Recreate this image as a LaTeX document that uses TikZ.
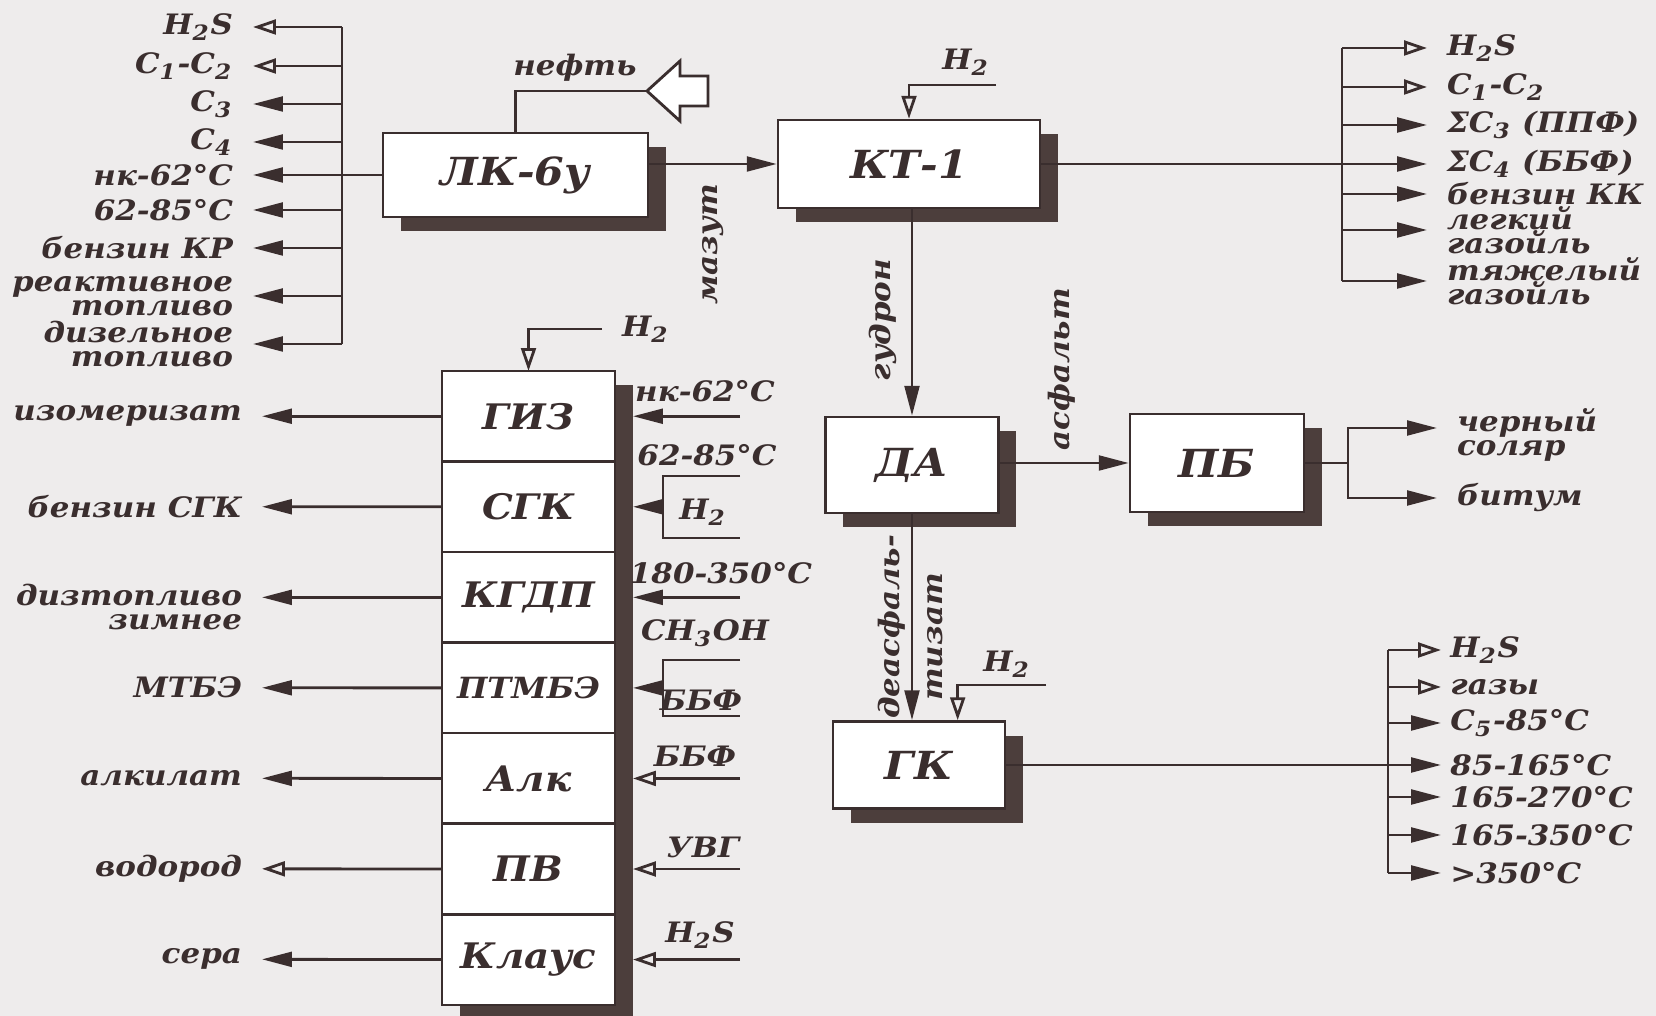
\documentclass[tikz,border=0pt]{standalone}
\usepackage{fontspec}
\newfontfamily\lblfont{DejaVu Serif}[FakeStretch=1.1]
\newcommand{\diagfont}{\lblfont\bfseries\itshape}
\usetikzlibrary{arrows.meta,positioning,shadows}
\definecolor{ink}{RGB}{58,46,46}
\definecolor{shade}{RGB}{76,62,60}
\definecolor{paper}{RGB}{238,236,236}

\begin{document}
\begin{tikzpicture}[x=0.01cm, y=-0.01cm,
    line/.style={draw=ink, line width=0.8pt},
    flow/.style={line, -{Triangle[length=8.5pt,width=4.2pt]}},
    gas/.style={line, -{Triangle[open,length=6.5pt,width=4.2pt,fill=paper]}},
    unit/.style={rectangle, draw=ink, line width=0.7pt, fill=white, text=ink,
        font=\diagfont\fontsize{11}{11}\selectfont,
        drop shadow={shadow xshift=5.1pt, shadow yshift=-4pt, opacity=1, fill=shade}},
    cell/.style={unit, minimum width=1.73cm, minimum height=0.905cm, inner sep=0pt, outer sep=0pt,
        font=\diagfont\fontsize{10}{10}\selectfont},
    lbl/.style={text=ink, inner xsep=5.5pt, inner ysep=1pt, font=\diagfont\fontsize{8}{6.8}\selectfont},
    near/.style={inner xsep=2.5pt},
    vlbl/.style={lbl, rotate=90, inner sep=1pt}]
    \useasboundingbox (0,0) rectangle (1656,1016);
    \fill[paper] (0,0) rectangle (1656,1016);

    % units
    \node[unit, minimum width=2.65cm, minimum height=0.84cm] (lk) at (515.5,175) {ЛК-6у};
    \node[unit, minimum width=2.62cm, minimum height=0.88cm] (kt) at (909,164) {КТ-1};
    \node[unit, minimum width=1.73cm, minimum height=0.96cm] (da) at (912,465) {ДА};
    \node[unit, minimum width=1.74cm, minimum height=0.98cm] (pb) at (1217,463) {ПБ};
    \node[unit, minimum width=1.72cm, minimum height=0.87cm] (gk) at (919,765) {ГК};

    % combined block
    \node[cell] (giz) at (528.5,416.25) {ГИЗ};
    \node[cell, below=0pt of giz] (sgk) {СГК};
    \node[cell, below=0pt of sgk] (kgdp) {КГДП};
    \node[cell, below=0pt of kgdp, font=\diagfont\fontsize{8.3}{8.3}\selectfont] (ptmbe) {ПТМБЭ};
    \node[cell, below=0pt of ptmbe] (alk) {Алк};
    \node[cell, below=0pt of alk] (pv) {ПВ};
    \node[cell, below=0pt of pv] (klaus) {Клаус};

    % crude oil feed
    \coordinate (oil) at (647,91);
    \node[lbl] (neft) at (575,68) {нефть};
    \draw[line] (lk.north) |- (oil);
    \draw[line, fill=white] (oil) -- ++(33,-30) -- ++(0,15) -- ++(28,0) -- ++(0,30)
        -- ++(-28,0) -- ++(0,15) -- cycle;

    % products of LK-6u
    \coordinate (lbus) at (342,0);
    \node[lbl, anchor=east] (lh2s) at (253,27) {H\textsubscript{2}S};
    \node[lbl, anchor=east] (lc12) at (253,66) {C\textsubscript{1}-C\textsubscript{2}};
    \node[lbl, anchor=east] (lc3) at (253,104) {C\textsubscript{3}};
    \node[lbl, anchor=east] (lc4) at (253,142) {C\textsubscript{4}};
    \node[lbl, anchor=east] (lnk) at (253,175) {нк-62°C};
    \node[lbl, anchor=east] (l6285) at (253,210) {62-85°C};
    \node[lbl, anchor=east] (lkr) at (253,248) {бензин КР};
    \node[lbl, anchor=east, align=right] (lreak) at (253,296) {реактивное\\топливо};
    \node[lbl, anchor=east, align=right] (ldiz) at (253,344) {дизельное\\топливо};
    \draw[line] (lbus |- lh2s) -- (lbus |- ldiz);
    \draw[line] (lk.west) -- (lk.west -| lbus);
    \draw[gas] (lbus |- lh2s) -- (lh2s);
    \draw[gas] (lbus |- lc12) -- (lc12);
    \draw[flow] (lbus |- lc3) -- (lc3);
    \draw[flow] (lbus |- lc4) -- (lc4);
    \draw[flow] (lbus |- lnk) -- (lnk);
    \draw[flow] (lbus |- l6285) -- (l6285);
    \draw[flow] (lbus |- lkr) -- (lkr);
    \draw[flow] (lbus |- lreak) -- (lreak);
    \draw[flow] (lbus |- ldiz) -- (ldiz);

    % mazut to KT-1
    \draw[flow] (lk.east |- kt.west) -- (kt.west);
    \node[vlbl, anchor=east] (mazut) at (713,180) {мазут};
    \coordinate (h2kt) at (996,85);
    \node[lbl] (h2ktl) at (966,62) {H\textsubscript{2}};
    \draw[gas] (h2kt) -| (kt.north);

    % products of KT-1
    \coordinate (kbus) at (1342,0);
    \node[lbl, anchor=west] (kh2s) at (1427,48) {H\textsubscript{2}S};
    \node[lbl, anchor=west] (kc12) at (1427,87) {C\textsubscript{1}-C\textsubscript{2}};
    \node[lbl, anchor=west] (kc3) at (1427,125) {ΣC\textsubscript{3} (ППФ)};
    \node[lbl, anchor=west] (kc4) at (1427,164) {ΣC\textsubscript{4} (ББФ)};
    \node[lbl, anchor=west] (kkk) at (1427,194) {бензин КК};
    \node[lbl, anchor=west, align=left] (klg) at (1427,230) {легкий\\газойль};
    \node[lbl, anchor=west, align=left] (ktg) at (1427,281) {тяжелый\\газойль};
    \draw[line] (kbus |- kh2s) -- (kbus |- ktg);
    \draw[flow] (kt.east) -- (kc4);
    \draw[gas] (kbus |- kh2s) -- (kh2s);
    \draw[gas] (kbus |- kc12) -- (kc12);
    \draw[flow] (kbus |- kc3) -- (kc3);
    \draw[flow] (kbus |- kkk) -- (kkk);
    \draw[flow] (kbus |- klg) -- (klg);
    \draw[flow] (kbus |- ktg) -- (ktg);

    % gudron, asphalt
    \draw[flow] (kt.south -| da.north) -- (da.north);
    \node[vlbl] (gudron) at (883,320) {гудрон};
    \draw[flow] (da.east |- pb.west) -- (pb.west);
    \node[vlbl, anchor=west] (asf) at (1062,455) {асфальт};
    \coordinate (pbtop) at (1348,428);
    \coordinate (pbbot) at (1348,498);
    \node[lbl, anchor=west, align=left] (solar) at (1437,435) {черный\\соляр};
    \node[lbl, anchor=west] (bitum) at (1437,498) {битум};
    \draw[flow] (pb.east) -| (pbtop) -- (pbtop -| solar.west);
    \draw[flow] (pb.east) -| (pbbot) -- (bitum);

    % deasphalted oil to GK
    \draw[flow] (da.south) -- (da.south |- gk.north);
    \node[vlbl] (deasf) at (892,627) {деасфаль-};
    \node[vlbl] (tizat) at (935,637) {тизат};
    \coordinate (h2gk) at (1046,685);
    \node[lbl] (h2gkl) at (1007,664) {H\textsubscript{2}};
    \draw[gas] (h2gk) -| ([xshift=11pt]gk.north);

    % products of GK
    \coordinate (gbus) at (1388,0);
    \node[lbl, near, anchor=west] (gh2s) at (1441,650) {H\textsubscript{2}S};
    \node[lbl, near, anchor=west] (ggas) at (1441,687) {газы};
    \node[lbl, near, anchor=west] (gc5) at (1441,723) {C\textsubscript{5}-85°C};
    \node[lbl, near, anchor=west] (g85) at (1441,765) {85-165°C};
    \node[lbl, near, anchor=west] (g165) at (1441,797) {165-270°C};
    \node[lbl, near, anchor=west] (g350) at (1441,835) {165-350°C};
    \node[lbl, near, anchor=west] (gres) at (1441,873) {>350°C};
    \draw[line] (gbus |- gh2s) -- (gbus |- gres);
    \draw[flow] (gk.east) -- (g85);
    \draw[gas] (gbus |- gh2s) -- (gh2s);
    \draw[gas] (gbus |- ggas) -- (ggas);
    \draw[flow] (gbus |- gc5) -- (gc5);
    \draw[flow] (gbus |- g165) -- (g165);
    \draw[flow] (gbus |- g350) -- (g350);
    \draw[flow] (gbus |- gres) -- (gres);

    % feeds of the combined block
    \node[lbl, anchor=west] (h2giz) at (602,329) {H\textsubscript{2}};
    \draw[gas] (h2giz.west) -| (giz.north);
    \coordinate (rin) at (740,0);
    \coordinate (brx) at (663,0);
    \node[lbl] (nk62) at (705,391) {нк-62°C};
    \draw[flow, shorten >=5.1pt] (giz.east -| rin) -- (giz.east);
    \node[lbl] (t6285) at (707,455) {62-85°C};
    \node[lbl] (h2sgk) at (703,512) {H\textsubscript{2}};
    \coordinate (sgka) at (740,476);
    \coordinate (sgkb) at (740,538);
    \draw[line] (sgka) -| (sgk.east -| brx) |- (sgkb);
    \draw[flow, shorten >=5.1pt] (sgk.east -| brx) -- (sgk.east);
    \node[lbl] (t180) at (721,573) {180-350°C};
    \draw[flow, shorten >=5.1pt] (kgdp.east -| rin) -- (kgdp.east);
    \node[lbl] (meoh) at (705,633) {CH\textsubscript{3}OH};
    \node[lbl] (bbf1) at (701,700) {ББФ};
    \coordinate (ptma) at (740,660);
    \coordinate (ptmb) at (740,716);
    \draw[line] (ptma) -| (ptmbe.east -| brx) |- (ptmb);
    \draw[flow, shorten >=5.1pt] (ptmbe.east -| brx) -- (ptmbe.east);
    \node[lbl] (bbf2) at (695,756) {ББФ};
    \draw[gas, shorten >=5.1pt] (alk.east -| rin) -- (alk.east);
    \node[lbl] (uvg) at (703,847) {УВГ};
    \draw[gas, shorten >=5.1pt] (pv.east -| rin) -- (pv.east);
    \node[lbl] (h2skl) at (700,935) {H\textsubscript{2}S};
    \draw[gas, shorten >=5.1pt] (klaus.east -| rin) -- (klaus.east);

    % products of the combined block
    \node[lbl, anchor=east] (izo) at (262,416.25) {изомеризат};
    \node[lbl, anchor=east] (bsgk) at (262,506.75) {бензин СГК};
    \node[lbl, anchor=east, align=right] (dizl) at (262,607) {дизтопливо\\зимнее};
    \node[lbl, anchor=east] (mtbe) at (262,687.75) {МТБЭ};
    \node[lbl, anchor=east] (alkil) at (262,778.25) {алкилат};
    \node[lbl, anchor=east] (h2out) at (262,868.75) {водород};
    \node[lbl, anchor=east] (sera) at (262,959.25) {сера};
    \draw[flow] (giz.west) -- (izo);
    \draw[flow] (sgk.west) -- (bsgk);
    \draw[flow] (kgdp.west) -- (kgdp.west -| dizl.east);
    \draw[flow] (ptmbe.west) -- (mtbe);
    \draw[flow] (alk.west) -- (alkil);
    \draw[gas] (pv.west) -- (h2out);
    \draw[flow] (klaus.west) -- (sera);
\end{tikzpicture}
\end{document}
